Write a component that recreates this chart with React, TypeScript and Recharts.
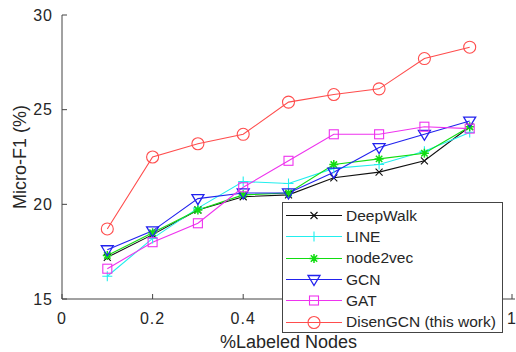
import React from 'react';
import { LineChart, Line, XAxis, YAxis, Legend } from 'recharts';

// % of labeled nodes
const labeled = [0.1, 0.2, 0.3, 0.4, 0.5, 0.6, 0.7, 0.8, 0.9];

// Micro-F1 (%) per method
const deepWalk = [17.2, 18.4, 19.7, 20.4, 20.5, 21.4, 21.7, 22.3, 24.1];
const lineScores = [16.2, 18.2, 19.8, 21.2, 21.1, 21.9, 22.1, 22.8, 23.8];
const node2vec = [17.3, 18.5, 19.7, 20.5, 20.6, 22.1, 22.4, 22.7, 24.1];
const gcn = [17.6, 18.6, 20.3, 20.6, 20.6, 21.7, 23.0, 23.7, 24.4];
const gat = [16.6, 18.0, 19.0, 20.9, 22.3, 23.7, 23.7, 24.1, 24.0];
const disenGcn = [18.7, 22.5, 23.2, 23.7, 25.4, 25.8, 26.1, 27.7, 28.3];

const xTicks = [0, 0.2, 0.4, 0.6, 0.8, 1];
const yTicks = [15, 20, 25, 30];

const FONT = '"Liberation Sans", Arial, Helvetica, sans-serif';
const AXIS = '#444';
const TEXT = '#262626';

type Marker = 'x' | 'plus' | 'star' | 'tri' | 'square' | 'circle';

const series: { key: string; name: string; color: string; marker: Marker; values: number[] }[] = [
  { key: 'deepWalk', name: 'DeepWalk', color: '#111111', marker: 'x', values: deepWalk },
  { key: 'line', name: 'LINE', color: '#22eeee', marker: 'plus', values: lineScores },
  { key: 'node2vec', name: 'node2vec', color: '#11dd11', marker: 'star', values: node2vec },
  { key: 'gcn', name: 'GCN', color: '#2222ee', marker: 'tri', values: gcn },
  { key: 'gat', name: 'GAT', color: '#ee33ee', marker: 'square', values: gat },
  { key: 'disenGcn', name: 'DisenGCN (this work)', color: '#ff4d4d', marker: 'circle', values: disenGcn },
];

const data = labeled.map((x, i) => {
  const row: any = { x };
  series.forEach((s) => {
    row[s.key] = s.values[i];
  });
  return row;
});

const drawMarker = (marker: Marker, cx: number, cy: number, color: string, key?: any) => {
  const common = { stroke: color, strokeWidth: 1.1, fill: 'none' };
  switch (marker) {
    case 'x':
      return (
        <path key={key} {...common} d={`M${cx - 3.5},${cy - 3.5}L${cx + 3.5},${cy + 3.5}M${cx - 3.5},${cy + 3.5}L${cx + 3.5},${cy - 3.5}`} />
      );
    case 'plus':
      return <path key={key} {...common} d={`M${cx - 5},${cy}L${cx + 5},${cy}M${cx},${cy - 5}L${cx},${cy + 5}`} />;
    case 'star':
      return (
        <path
          key={key}
          {...common}
          strokeWidth={1.5}
          d={`M${cx - 4.5},${cy}L${cx + 4.5},${cy}M${cx},${cy - 4.5}L${cx},${cy + 4.5}M${cx - 3.2},${cy - 3.2}L${cx + 3.2},${cy + 3.2}M${cx - 3.2},${cy + 3.2}L${cx + 3.2},${cy - 3.2}`}
        />
      );
    case 'tri':
      return <path key={key} {...common} strokeWidth={1.3} d={`M${cx - 6},${cy - 4}L${cx + 6},${cy - 4}L${cx},${cy + 6}Z`} />;
    case 'square':
      return <rect key={key} {...common} x={cx - 4.5} y={cy - 4.5} width={9} height={9} />;
    default:
      return <circle key={key} {...common} cx={cx} cy={cy} r={6} />;
  }
};

const makeDot = (marker: Marker, color: string) => (props: any) => {
  if (props.cx == null || props.cy == null) return <g key={props.index} />;
  return drawMarker(marker, props.cx, props.cy, color, props.index);
};

const BottomTick = (props: any) => {
  const { x, y, payload } = props;
  return (
    <g>
      <line x1={x} y1={y} x2={x} y2={y - 5} stroke={AXIS} />
      <text x={x} y={y + 25} textAnchor="middle" fontSize={16} fill={TEXT} fontFamily={FONT} letterSpacing={1}>
        {payload.value}
      </text>
    </g>
  );
};

const TopTick = (props: any) => {
  const { x, y } = props;
  return <line x1={x} y1={y} x2={x} y2={y + 5} stroke={AXIS} />;
};

const LeftTick = (props: any) => {
  const { x, y, payload } = props;
  return (
    <g>
      <line x1={x} y1={y} x2={x + 5} y2={y} stroke={AXIS} />
      <text x={x - 9} y={y} dy="0.36em" textAnchor="end" fontSize={16} fill={TEXT} fontFamily={FONT} letterSpacing={1}>
        {payload.value}
      </text>
    </g>
  );
};

const RightTick = (props: any) => {
  const { x, y } = props;
  return <line x1={x} y1={y} x2={x - 5} y2={y} stroke={AXIS} />;
};

const LegendBox = () => (
  <div
    style={{
      width: 221,
      height: 131,
      boxSizing: 'border-box',
      border: `1px solid ${AXIS}`,
      background: '#fff',
      paddingTop: 2,
      fontFamily: FONT,
      fontSize: 15.5,
      color: TEXT,
    }}
  >
    {series.map((s) => (
      <div key={s.key} style={{ display: 'flex', alignItems: 'center', height: 21.3 }}>
        <svg width={62} height={21} style={{ display: 'block' }}>
          <line x1={3} y1={10.5} x2={59} y2={10.5} stroke={s.color} strokeWidth={1.1} />
          {drawMarker(s.marker, 31, 10.5, s.color)}
        </svg>
        <span style={{ marginLeft: 1, whiteSpace: 'nowrap' }}>{s.name}</span>
      </div>
    ))}
  </div>
);

export default function App() {
  return (
    <div style={{ position: 'absolute', left: 0, top: 0, width: 516, height: 352, background: '#fff' }}>
      <LineChart width={516} height={352} data={data} margin={{ top: 15, right: 1, bottom: 0, left: 0 }}>
        <XAxis
          dataKey="x"
          type="number"
          domain={[0, 1]}
          ticks={xTicks}
          height={53}
          tickSize={0}
          tickMargin={0}
          tickLine={false}
          stroke={AXIS}
          tick={<BottomTick />}
          label={{
            value: '%Labeled Nodes',
            position: 'insideBottom',
            offset: 4,
            fontSize: 18,
            fill: TEXT,
            fontFamily: FONT,
          }}
        />
        <XAxis
          xAxisId="top"
          orientation="top"
          type="number"
          domain={[0, 1]}
          ticks={xTicks}
          height={0}
          tickSize={0}
          tickMargin={0}
          tickLine={false}
          stroke={AXIS}
          tick={<TopTick />}
        />
        <YAxis
          type="number"
          domain={[15, 30]}
          ticks={yTicks}
          width={62}
          tickSize={0}
          tickMargin={0}
          tickLine={false}
          stroke={AXIS}
          tick={<LeftTick />}
          label={{
            value: 'Micro-F1 (%)',
            angle: -90,
            position: 'insideLeft',
            offset: 20,
            fontSize: 18,
            fill: TEXT,
            fontFamily: FONT,
            style: { textAnchor: 'middle' },
          }}
        />
        <YAxis
          yAxisId="right"
          orientation="right"
          type="number"
          domain={[15, 30]}
          ticks={yTicks}
          width={0}
          tickSize={0}
          tickMargin={0}
          tickLine={false}
          stroke={AXIS}
          tick={<RightTick />}
        />
        {series.map((s) => (
          <Line
            key={s.key}
            dataKey={s.key}
            name={s.name}
            type="linear"
            stroke={s.color}
            strokeWidth={1.1}
            dot={makeDot(s.marker, s.color)}
            activeDot={false}
            isAnimationActive={false}
          />
        ))}
        <Legend
          layout="vertical"
          align="center"
          verticalAlign="middle"
          content={<LegendBox />}
          wrapperStyle={{ position: 'absolute', left: 282, top: 202, width: 221, height: 131 }}
        />
      </LineChart>
    </div>
  );
}
